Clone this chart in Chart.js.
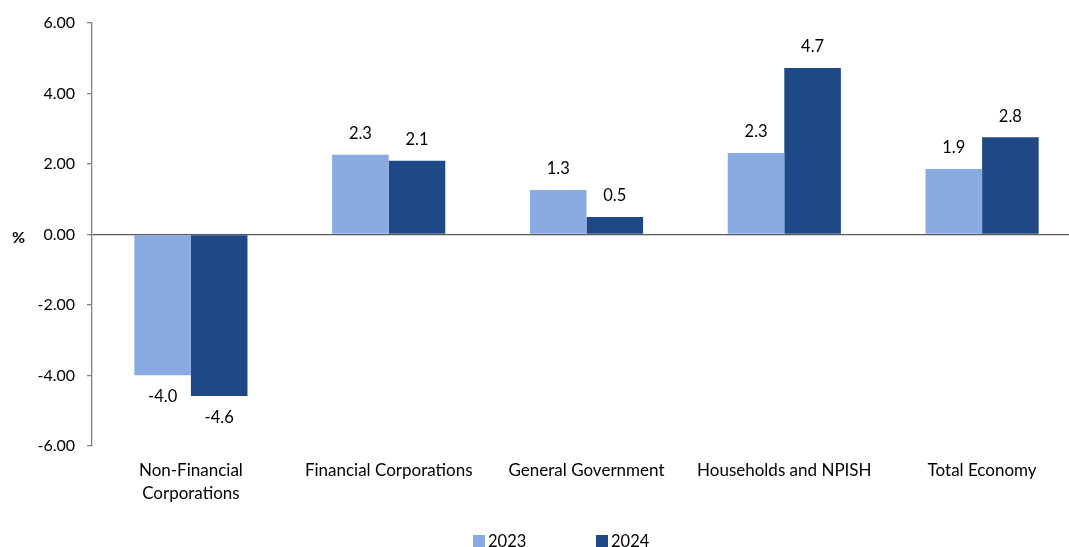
<!DOCTYPE html>
<html>
<head>
<meta charset="utf-8">
<script src="https://cdn.jsdelivr.net/npm/chart.js@4"></script>
<style>
  html, body { margin: 0; padding: 0; background: #ffffff; overflow: hidden; }
  #wrap { width: 1069px; height: 547px; overflow: hidden; position: relative; }
  #box { width: 1082px; height: 547px; position: absolute; left: 0; top: 0; }
</style>
</head>
<body>
<div id="wrap"><div id="box"><canvas id="c"></canvas></div></div>
<script>
const categories = [["Non-Financial", "Corporations"], "Financial Corporations", "General Government", "Households and NPISH", "Total Economy"];
const series2023 = [-3.99, 2.26, 1.26, 2.31, 1.86];
const series2024 = [-4.58, 2.09, 0.50, 4.72, 2.76];
const seriesNames = ["2023", "2024"];
const yTicks = [-6, -4, -2, 0, 2, 4, 6];

const FONT = "Lato, 'Open Sans', sans-serif";
const COL_LIGHT = "#8AABE2";
const COL_DARK = "#1F4887";

const extras = {
  id: "extras",
  afterDatasetsDraw(chart) {
    const ctx = chart.ctx;
    ctx.save();
    ctx.fillStyle = "#000";
    ctx.font = "16.5px " + FONT;
    ctx.textAlign = "center";
    ctx.textBaseline = "middle";
    chart.data.datasets.forEach((ds, di) => {
      const meta = chart.getDatasetMeta(di);
      meta.data.forEach((bar, i) => {
        const v = ds.data[i];
        const y = v >= 0 ? bar.y - 21 : bar.y + 22;
        ctx.fillText(v.toFixed(1), bar.x, y);
      });
    });
    // % label
    const ys = chart.scales.y;
    ctx.font = "bold 16px " + FONT;
    ctx.textAlign = "left";
    ctx.fillText("%", 12, ys.getPixelForValue(0) + 3);
    // legend
    ctx.font = "16.5px " + FONT;
    ctx.textBaseline = "middle";
    const items = [{x: 473, c: COL_LIGHT, t: seriesNames[0]}, {x: 596, c: COL_DARK, t: seriesNames[1]}];
    items.forEach(it => {
      ctx.fillStyle = it.c;
      ctx.fillRect(it.x, 535, 12, 12);
      ctx.fillStyle = "#000";
      ctx.fillText(it.t, it.x + 15, 542);
    });
    ctx.restore();
  }
};

new Chart(document.getElementById("c"), {
  type: "bar",
  data: {
    labels: categories,
    datasets: [
      { label: seriesNames[0], data: series2023, backgroundColor: COL_LIGHT, borderWidth: 0 },
      { label: seriesNames[1], data: series2024, backgroundColor: COL_DARK, borderWidth: 0 }
    ]
  },
  options: {
    responsive: true,
    maintainAspectRatio: false,
    animation: false,
    layout: { padding: { top: 23, right: 1, bottom: 0, left: 0 } },
    plugins: { legend: { display: false }, tooltip: { enabled: false } },
    datasets: { bar: { barPercentage: 1.0, categoryPercentage: 0.572 } },
    scales: {
      x: {
        offset: true,
        grid: { display: false, drawTicks: false },
        border: { display: false },
        ticks: { color: "#000", font: { family: FONT, size: 17, lineHeight: 1.35 }, padding: 13, maxRotation: 0, autoSkip: false },
        afterFit(scale) { scale.height = 101; }
      },
      y: {
        min: -6, max: 6,
        afterBuildTicks(scale) { scale.ticks = yTicks.map(v => ({ value: v })); },
        ticks: { color: "#000", font: { family: FONT, size: 16 }, padding: 12,
                 callback: v => Number(v).toFixed(2) },
        grid: {
          color: c => (c.tick && c.tick.value === 0) ? "#595959" : "rgba(0,0,0,0)",
          tickColor: "#808080",
          tickLength: 5,
          lineWidth: 1.3
        },
        border: { display: true, color: "#808080", width: 1.3 },
        afterFit(scale) { scale.width = 92; }
      }
    }
  },
  plugins: [extras]
});
</script>
</body>
</html>
